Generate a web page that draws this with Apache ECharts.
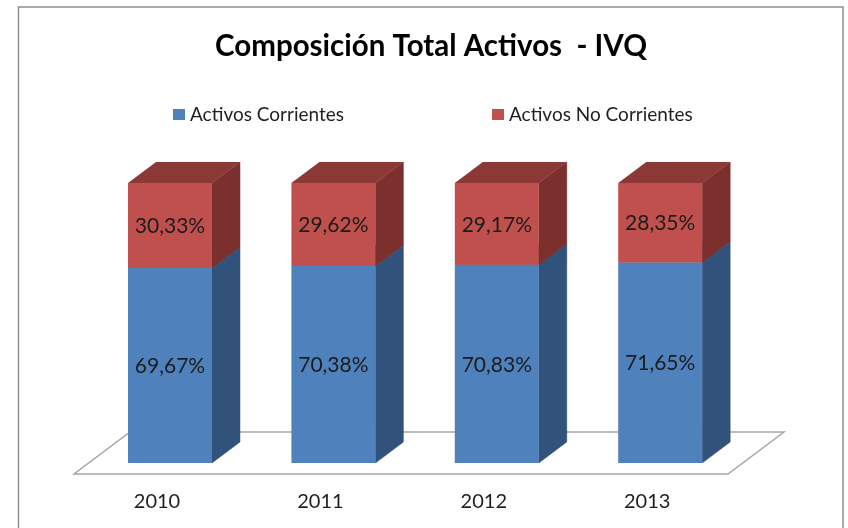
<!DOCTYPE html>
<html>
<head>
<meta charset="utf-8">
<style>html,body{margin:0;padding:0;background:#fff}#c{width:848px;height:528px}</style>
<script src="https://cdn.jsdelivr.net/npm/echarts@6/dist/echarts.min.js"></script>
</head>
<body>
<div id="c"></div>
<script>
const categories = ['2010', '2011', '2012', '2013'];
const activosCorrientes = [69.67, 70.38, 70.83, 71.65];
const activosNoCorrientes = [30.33, 29.62, 29.17, 28.35];

const FONT = 'Lato';
const DEPTH_X = 28, DEPTH_Y = 21, BAR_RATIO = 0.514;
const fmt = v => v.toFixed(2).replace('.', ',') + '%';

function barRenderer(frontColor, sideColor, topColor) {
  return function (params, api) {
    const x = api.coord([api.value(0), 0])[0];
    const y0 = api.coord([api.value(0), api.value(1)])[1];
    const y1 = api.coord([api.value(0), api.value(2)])[1];
    const w = api.size([1, 0])[0] * BAR_RATIO;
    const l = x - w / 2, r = x + w / 2;
    const children = [
      { type: 'polygon', shape: { points: [[r, y1], [r + DEPTH_X, y1 - DEPTH_Y], [r + DEPTH_X, y0 - DEPTH_Y], [r, y0]] }, style: { fill: sideColor, stroke: sideColor, lineWidth: 0.5 } },
      { type: 'polygon', shape: { points: [[l, y1], [l + DEPTH_X, y1 - DEPTH_Y], [r + DEPTH_X, y1 - DEPTH_Y], [r, y1]] }, style: { fill: topColor } },
      { type: 'rect', shape: { x: l, y: y1, width: w, height: y0 - y1 }, style: { fill: frontColor } },
      { type: 'text', x: x, y: (y0 + y1) / 2 + 1, style: { text: fmt(api.value(2) - api.value(1)), fill: '#1c1c1c', font: '21px ' + FONT, textAlign: 'center', textVerticalAlign: 'middle' } }
    ];
    return { type: 'group', children };
  };
}

function floorRenderer(params, api) {
  const cs = params.coordSys;
  const bottom = cs.y + cs.height;
  const pts = [[74, bottom + 11], [728, bottom + 11], [784, bottom - 31], [130, bottom - 31]];
  return { type: 'polygon', shape: { points: pts }, style: { fill: '#fff', stroke: '#a6a6a6', lineWidth: 1.5 } };
}

const corrientes = categories.map((c, i) => [i, 0, activosCorrientes[i]]);
const noCorrientes = categories.map((c, i) => [i, activosCorrientes[i], activosCorrientes[i] + activosNoCorrientes[i]]);

const chart = echarts.init(document.getElementById('c'), null, { renderer: 'canvas' });
chart.setOption({
  animation: false,
  backgroundColor: '#fff',
  title: {
    text: 'Composición Total Activos  - IVQ',
    left: 426, top: 26, textAlign: 'center',
    textStyle: { fontFamily: FONT, fontSize: 29.5, fontWeight: 'bold', color: '#000' }
  },
  legend: {
    left: 168, top: 100, itemWidth: 12, itemHeight: 11, itemGap: 148, icon: 'rect',
    data: ['Activos Corrientes', 'Activos No Corrientes'],
    textStyle: { fontFamily: FONT, fontSize: 19, color: '#1f1f1f' }
  },
  grid: { left: 88.3, width: 653.6, top: 183, height: 280 },
  xAxis: {
    type: 'category', data: categories,
    axisLine: { show: false }, axisTick: { show: false },
    axisLabel: { fontFamily: FONT, fontSize: 20, color: '#1f1f1f', margin: 29, padding: [0, 26, 0, 0] }
  },
  yAxis: { type: 'value', min: 0, max: 100, show: false, splitLine: { show: false } },
  graphic: [{
    type: 'rect', z: -1, silent: true,
    shape: { x: 18.5, y: 7, width: 824.5, height: 540 },
    style: { fill: '#fff', stroke: '#8f8f8f', lineWidth: 1.5 }
  }],
  series: [
    { type: 'custom', silent: true, z: 1, clip: false, renderItem: floorRenderer, data: [[0, 0]], encode: { x: 0, y: 1 } },
    { type: 'custom', name: 'Activos Corrientes', z: 2, clip: false, itemStyle: { color: '#4F81BD' },
      renderItem: barRenderer('#4F81BD', '#31527A', '#3A6190'), data: corrientes, encode: { x: 0, y: [1, 2] } },
    { type: 'custom', name: 'Activos No Corrientes', z: 2, clip: false, itemStyle: { color: '#C0504D' },
      renderItem: barRenderer('#C0504D', '#7B302E', '#8C3836'), data: noCorrientes, encode: { x: 0, y: [1, 2] } }
  ]
});
</script>
</body>
</html>
